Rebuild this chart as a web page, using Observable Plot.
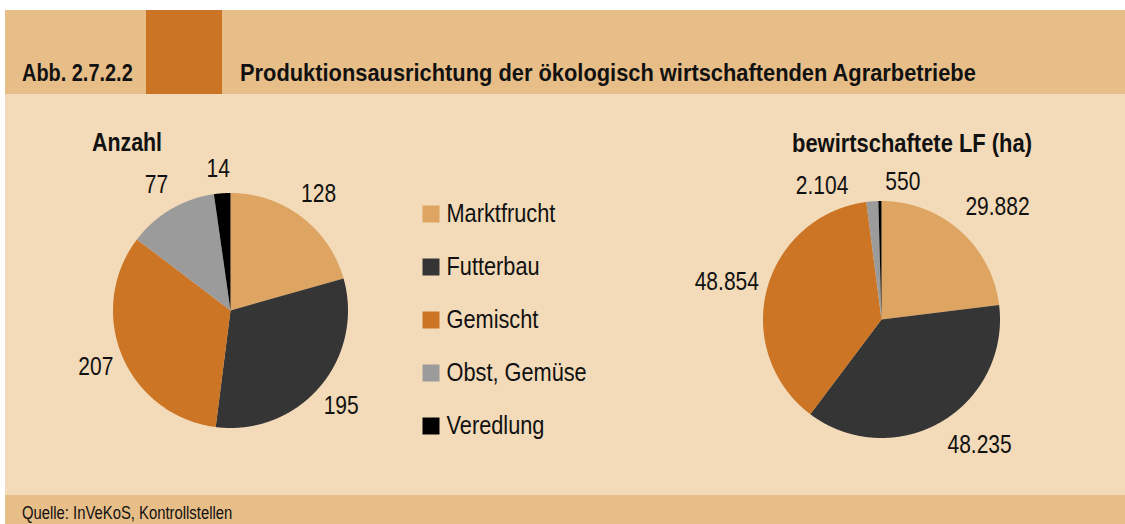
<!DOCTYPE html>
<html><head><meta charset="utf-8">
<script src="https://cdn.jsdelivr.net/npm/d3@7"></script>
<script src="https://cdn.jsdelivr.net/npm/@observablehq/plot@0.6"></script>
<style>
html,body{margin:0;padding:0;background:#fff;width:1125px;height:524px;overflow:hidden;font-family:"Liberation Sans",Arial,sans-serif;color:#111}
.box{position:absolute}
.t{position:absolute;white-space:nowrap;line-height:1}
#chart{position:absolute;left:0;top:94px}
</style></head>
<body>
<div class="box" style="left:5px;top:10px;width:1120px;height:84px;background:#E8BE88"></div>
<div class="box" style="left:146px;top:10px;width:76px;height:84px;background:#CB7425"></div>
<div class="box" style="left:5px;top:94px;width:1120px;height:401px;background:#F3DBB9"></div>
<div class="box" style="left:5px;top:495px;width:1120px;height:29px;background:#E8BE88"></div>
<div id="chart"></div>
<script>
// ---- data ----
const categories = ["Marktfrucht", "Futterbau", "Gemischt", "Obst, Gemüse", "Veredlung"];
const anzahl = [128, 195, 207, 77, 14];
const flaeche = [29882, 48235, 48854, 2104, 550];
const colors = ["#DDA462", "#353535", "#CB7525", "#9B9B9B", "#000000"];
const figNumber = "Abb. 2.7.2.2";
const title = "Produktionsausrichtung der ökologisch wirtschaftenden Agrarbetriebe";
const pieTitles = ["Anzahl", "bewirtschaftete LF (ha)"];
const source = "Quelle: InVeKoS, Kontrollstellen";

// ---- layout ----
const L = {
  left: {cx: 230, cy: 310, r: 117.5, rl: 146, nudge: [[0,0],[0,0],[0,0],[0,0],[-2,4]]},
  right: {cx: 881, cy: 319, r: 118.5, rl: 160, nudge: [[10,7],[18,-13],[0,3],[-47,26.5],[23.5,22.5]]},
  legendSwatchX: 430.5, legendTextX: 446, legendY0: 213.5, legendStep: 53,
  kLabel: 0.84, kLegend: 0.87
};
const deFormat = d3.formatLocale({decimal: ",", thousands: ".", grouping: [3], currency: ["", ""]}).format(",");

function addText(str, {x, baseline, size, weight = "normal", k, anchor = "start"}) {
  const el = document.createElement("div");
  el.className = "t";
  el.textContent = str;
  el.style.fontSize = size + "px";
  el.style.fontWeight = weight;
  el.style.left = x + "px";
  el.style.top = (baseline - 0.8465 * size) + "px";
  if (anchor === "middle") {
    el.style.transformOrigin = "50% 50%";
    el.style.transform = `translateX(-50%) scaleX(${k})`;
  } else {
    el.style.transformOrigin = "0 50%";
    el.style.transform = `scaleX(${k})`;
  }
  document.body.appendChild(el);
}

addText(figNumber, {x: 22, baseline: 81, size: 24, weight: "bold", k: 0.83});
addText(title, {x: 240, baseline: 81, size: 24, weight: "bold", k: 0.91});
addText(pieTitles[0], {x: 127, baseline: 151, size: 25, weight: "bold", k: 0.855, anchor: "middle"});
addText(pieTitles[1], {x: 912, baseline: 152, size: 25, weight: "bold", k: 0.877, anchor: "middle"});
addText(source, {x: 22, baseline: 519, size: 18, k: 0.824});

function pieParts(values, name, g, fmt) {
  const arcs = d3.pie().sort(null)(values);
  const pts = [], labels = [];
  arcs.forEach((a, i) => {
    const key = name + i, category = categories[i];
    pts.push({x: g.cx, y: g.cy, key, category});
    const n = Math.max(2, Math.ceil((a.endAngle - a.startAngle) / 0.004));
    for (let j = 0; j <= n; j++) {
      const t = a.startAngle + (a.endAngle - a.startAngle) * j / n;
      pts.push({x: g.cx + g.r * Math.sin(t), y: g.cy - g.r * Math.cos(t), key, category});
    }
    const m = (a.startAngle + a.endAngle) / 2;
    labels.push({
      x: g.cx + g.rl * Math.sin(m) + g.nudge[i][0],
      y: g.cy - g.rl * Math.cos(m) + g.nudge[i][1],
      text: fmt(values[i])
    });
  });
  return {pts, labels};
}

const p1 = pieParts(anzahl, "a", L.left, deFormat);
const p2 = pieParts(flaeche, "b", L.right, deFormat);

const chart = Plot.plot({
  width: 1125, height: 401, margin: 0,
  x: {domain: [0, 1125], range: [0, 1125], axis: null},
  y: {domain: [94, 495], range: [0, 401], axis: null},
  color: {domain: categories, range: colors},
  style: {background: "transparent", fontFamily: "Liberation Sans, Arial, sans-serif", overflow: "visible"},
  marks: [
    Plot.line(p1.pts.concat(p2.pts), {x: "x", y: "y", z: "key", fill: "category", stroke: "none"}),
    Plot.text(p1.labels.concat(p2.labels), {x: "x", y: "y", text: "text", fontSize: 25, fill: "#111", textAnchor: "middle"}),
    Plot.dot(categories, {x: () => L.legendSwatchX, y: (d, i) => L.legendY0 + i * L.legendStep, symbol: "square", r: 9.59, fill: d => d}),
    Plot.text(categories, {x: () => L.legendTextX, y: (d, i) => L.legendY0 + i * L.legendStep, text: d => d, textAnchor: "start", fontSize: 25, fill: "#111"})
  ]
});
document.getElementById("chart").appendChild(chart);
chart.querySelectorAll("text").forEach(t => {
  const len = t.getComputedTextLength();
  const k = categories.includes(t.textContent) ? L.kLegend : L.kLabel;
  t.setAttribute("textLength", len * k);
  t.setAttribute("lengthAdjust", "spacingAndGlyphs");
});
</script>
</body></html>
